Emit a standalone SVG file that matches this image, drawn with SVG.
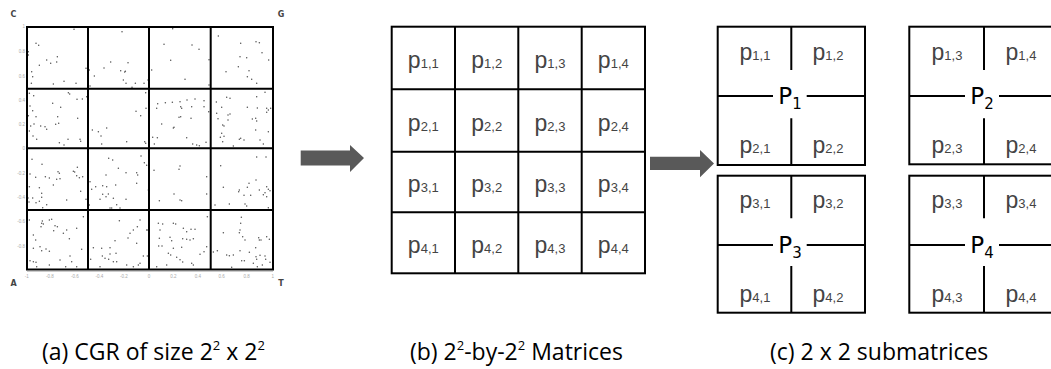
<svg xmlns="http://www.w3.org/2000/svg" width="1051" height="369" viewBox="0 0 1051 369">
<style>
.grid{fill:none;stroke:#000;stroke-width:2}
.ln{stroke:#000;stroke-width:2;fill:none}
.p{font-family:"Liberation Sans",Arial,sans-serif;font-size:23px;fill:#444;text-anchor:middle}
.ps{font-size:13px}
.P{font-family:"DejaVu Sans",Verdana,sans-serif;font-size:23px;fill:#000;text-anchor:middle}
.Ps{font-size:15px}
.cap{font-family:"Open Sans","Noto Sans",sans-serif;font-size:23px;fill:#000}
.sup{font-size:13px}
.corner{font-family:"DejaVu Sans",sans-serif;font-size:8px;font-weight:bold;fill:#444;text-anchor:middle}
.tick{font-family:"Liberation Sans",sans-serif;font-size:4.5px;fill:#aaa}
.arrow{fill:#595959}
</style>
<g id="cgr">
<line x1="27" y1="271.5" x2="273" y2="271.5" stroke="#ccc" stroke-width="1"/>
<g transform="scale(0.33333)">
<path fill="none" stroke="#555" stroke-width="4.5" stroke-linecap="round" d="M222 88h.1M108 130h.1M116 136h.1M85 155h.1M85 165h.1M172 170h.1M140 180h.1M152 190h.1M170 186h.1M118 196h.1M95 215h.1M98 230h.1M94 250h.1M160 252h.1M192 244h.1M228 250h.1M258 205h.1
M366 95h.1M332 186h.1M384 188h.1M312 204h.1M283 228h.1M362 212h.1M376 214h.1M374 216h.1M370 240h.1M378 250h.1M406 250h.1M396 262h.1M432 250h.1M444 240h.1M270 258h.1M268 210h.1
M518 86h.1M492 133h.1M576 135h.1M597 148h.1M512 181h.1M627 179h.1M455 210h.1M555 238h.1M627 255h.1
M655 108h.1M722 130h.1M768 125h.1M778 128h.1M786 158h.1M720 170h.1M740 173h.1M806 180h.1M715 200h.1M678 215h.1M747 212h.1M742 230h.1M755 238h.1M770 250h.1
M88 280h.1M101 287h.1M205 278h.1M209 282h.1M231 298h.1M247 297h.1M260 290h.1M90 318h.1M158 310h.1M182 322h.1M98 332h.1M85 347h.1M173 350h.1M233 355h.1M108 350h.1M102 372h.1M92 378h.1M122 378h.1M135 380h.1M140 388h.1M167 373h.1M176 370h.1M88 393h.1M99 408h.1M110 418h.1M178 428h.1M204 418h.1M240 418h.1M242 424h.1M192 435h.1
M437 278h.1M408 334h.1M438 325h.1M422 347h.1M320 384h.1M277 390h.1M295 395h.1M303 408h.1M305 432h.1M380 425h.1M434 425h.1M437 430h.1M263 392h.1
M473 311h.1M496 308h.1M517 307h.1M540 305h.1M561 300h.1M585 297h.1M612 302h.1M542 320h.1M545 325h.1M575 320h.1M612 320h.1M537 352h.1M542 350h.1M470 325h.1M573 355h.1M626 335h.1M485 372h.1M520 384h.1M522 382h.1M458 412h.1M472 413h.1M560 413h.1M578 432h.1M590 435h.1M598 437h.1M463 432h.1M618 427h.1
M680 292h.1M690 295h.1M649 306h.1M770 290h.1M795 277h.1M742 322h.1M772 324h.1M665 322h.1M650 340h.1M654 356h.1M668 375h.1M672 378h.1M690 342h.1M684 345h.1M684 360h.1M767 355h.1M757 357h.1M770 363h.1M800 325h.1M805 330h.1M812 325h.1M800 337h.1M767 390h.1M805 395h.1M665 400h.1M661 412h.1M672 409h.1M718 418h.1M722 415h.1M732 420h.1M780 420h.1M790 432h.1M668 425h.1M700 438h.1
M96 478h.1M126 493h.1M90 522h.1M107 532h.1M136 530h.1M148 534h.1M174 515h.1M178 520h.1M180 536h.1M170 538h.1M160 555h.1M220 514h.1M232 502h.1M224 516h.1M230 527h.1M238 533h.1M248 530h.1M242 574h.1M88 560h.1M118 563h.1M125 580h.1M98 594h.1M125 592h.1M108 608h.1M118 604h.1M140 614h.1M128 623h.1M200 600h.1M258 598h.1M87 606h.1M84 594h.1
M326 475h.1M338 480h.1M423 468h.1M433 488h.1M440 496h.1M355 505h.1M318 525h.1M270 545h.1M275 568h.1M287 560h.1M308 557h.1M320 560h.1M347 555h.1M378 518h.1M410 518h.1M413 525h.1M410 550h.1M445 570h.1M308 583h.1M325 582h.1M300 598h.1M318 590h.1M340 595h.1M378 598h.1M350 614h.1M335 624h.1M330 624h.1M268 615h.1M360 624h.1
M462 511h.1M540 498h.1M537 508h.1M522 582h.1M540 600h.1M545 602h.1M478 602h.1M620 530h.1M620 582h.1
M662 497h.1M770 471h.1M798 471h.1M768 540h.1M747 550h.1M742 562h.1M718 570h.1M716 575h.1M732 586h.1M752 586h.1M670 562h.1M778 570h.1M800 560h.1M805 568h.1M810 572h.1M795 578h.1M790 584h.1M800 590h.1M688 612h.1M735 612h.1M740 618h.1M645 615h.1M805 623h.1
M88 660h.1M127 663h.1M148 660h.1M155 658h.1M125 670h.1M130 672h.1M123 680h.1M165 677h.1M172 680h.1M161 692h.1M190 700h.1M200 690h.1M208 716h.1M230 685h.1M250 650h.1M100 705h.1M107 720h.1M100 745h.1M120 740h.1M138 747h.1M125 752h.1M148 754h.1M245 748h.1M90 782h.1M100 785h.1M108 787h.1M180 780h.1M210 768h.1M215 785h.1M148 795h.1M197 800h.1M230 800h.1M110 800h.1
M358 662h.1M420 660h.1M440 690h.1M444 690h.1M412 680h.1M400 690h.1M390 700h.1M384 714h.1M345 722h.1M280 743h.1M305 745h.1M330 743h.1M410 730h.1M348 760h.1M330 762h.1M307 768h.1M315 775h.1M326 778h.1M340 785h.1M350 785h.1M380 795h.1M400 800h.1M415 795h.1M272 778h.1M300 800h.1M430 768h.1M442 768h.1M420 790h.1
M475 670h.1M488 672h.1M520 670h.1M527 672h.1M550 685h.1M573 688h.1M585 688h.1M560 695h.1M480 690h.1M478 715h.1M476 738h.1M486 738h.1M510 712h.1M515 722h.1M548 716h.1M580 716h.1M560 718h.1M570 720h.1M520 745h.1M545 742h.1M505 760h.1M512 765h.1M530 772h.1M540 779h.1M548 786h.1M470 800h.1M500 795h.1M575 790h.1M580 795h.1M600 763h.1M612 755h.1M620 740h.1M622 650h.1
M724 652h.1M722 670h.1M720 690h.1M718 698h.1M728 710h.1M735 720h.1M670 698h.1M776 713h.1M778 720h.1M783 720h.1M800 710h.1M808 718h.1M767 743h.1M720 752h.1M748 757h.1M652 752h.1M640 756h.1M680 765h.1M688 767h.1M700 765h.1M725 782h.1M733 782h.1M768 770h.1M780 766h.1M770 778h.1M795 768h.1M797 778h.1M760 790h.1M787 795h.1M810 787h.1M772 800h.1M695 802h.1"/>
</g>
<rect class="grid" x="27" y="27" width="246" height="242.5"/>
<path class="ln" d="M88 27V269.5M149 27V269.5M210.7 27V269.5M27 88.7H273M27 148.3H273M27 210H273"/>
<text class="corner" x="13.5" y="17">C</text>
<text class="corner" x="281" y="17">G</text>
<text class="corner" x="13.5" y="286">A</text>
<text class="corner" x="281" y="286">T</text>
<g class="tick" text-anchor="end">
<text x="25" y="28">1</text><text x="25" y="53">0.8</text><text x="25" y="77.5">0.6</text><text x="25" y="101.5">0.4</text><text x="25" y="125.5">0.2</text><text x="25" y="150">0</text><text x="25" y="174.5">-0.2</text><text x="25" y="198.5">-0.4</text><text x="25" y="223">-0.6</text><text x="25" y="247.5">-0.8</text>
</g>
<g class="tick" text-anchor="middle">
<text x="26.7" y="278">-1</text><text x="50" y="278">-0.8</text><text x="75" y="278">-0.6</text><text x="99.3" y="278">-0.4</text><text x="124" y="278">-0.2</text><text x="149" y="278">0</text><text x="173.3" y="278">0.2</text><text x="198" y="278">0.4</text><text x="221.7" y="278">0.6</text><text x="246.7" y="278">0.8</text><text x="272.7" y="278">1</text>
</g>
</g>
<g id="connectors">
<polygon class="arrow" points="300.7,150.5 350,150.5 350,145 364,158 350,172 350,165.5 300.7,165.5"/>
<polygon class="arrow" points="650,156.7 700,156.7 700,150 714,163.5 700,177.3 700,170 650,170"/>
</g>
<g id="matrix">
<rect class="grid" x="391.7" y="26.7" width="253.3" height="246.6"/>
<path class="ln" d="M455 26.7V273.3M518.3 26.7V273.3M581.7 26.7V273.3M391.7 89.3H645M391.7 151.7H645M391.7 212.3H645"/>
<g class="p">
<text x="423.3" y="68">p<tspan class="ps">1,1</tspan></text>
<text x="486.7" y="68">p<tspan class="ps">1,2</tspan></text>
<text x="550" y="68">p<tspan class="ps">1,3</tspan></text>
<text x="613.3" y="68">p<tspan class="ps">1,4</tspan></text>
<text x="423.3" y="130.5">p<tspan class="ps">2,1</tspan></text>
<text x="486.7" y="130.5">p<tspan class="ps">2,2</tspan></text>
<text x="550" y="130.5">p<tspan class="ps">2,3</tspan></text>
<text x="613.3" y="130.5">p<tspan class="ps">2,4</tspan></text>
<text x="423.3" y="192">p<tspan class="ps">3,1</tspan></text>
<text x="486.7" y="192">p<tspan class="ps">3,2</tspan></text>
<text x="550" y="192">p<tspan class="ps">3,3</tspan></text>
<text x="613.3" y="192">p<tspan class="ps">3,4</tspan></text>
<text x="423.3" y="253">p<tspan class="ps">4,1</tspan></text>
<text x="486.7" y="253">p<tspan class="ps">4,2</tspan></text>
<text x="550" y="253">p<tspan class="ps">4,3</tspan></text>
<text x="613.3" y="253">p<tspan class="ps">4,4</tspan></text>
</g>
</g>
<g id="sub1">
<rect class="grid" x="717.7" y="26.7" width="147.3" height="138.3"/>
<path class="ln" d="M791.3 26.7V70M791.3 118.3V165M717.7 96H773M806.7 96H865"/>
<g class="p"><text x="755" y="60">p<tspan class="ps">1,1</tspan></text><text x="828" y="60">p<tspan class="ps">1,2</tspan></text><text x="755" y="153.3">p<tspan class="ps">2,1</tspan></text><text x="828" y="153.3">p<tspan class="ps">2,2</tspan></text></g>
<text class="P" x="790" y="104">P<tspan class="Ps" dy="5">1</tspan></text>
</g>
<g id="sub2">
<rect class="grid" x="909.3" y="26.7" width="150" height="137.6"/>
<path class="ln" d="M984 26.7V70M984 118.3V164.3M909.3 96H965M999 96H1060"/>
<g class="p"><text x="947" y="60">p<tspan class="ps">1,3</tspan></text><text x="1021" y="60">p<tspan class="ps">1,4</tspan></text><text x="947" y="153.3">p<tspan class="ps">2,3</tspan></text><text x="1021" y="153.3">p<tspan class="ps">2,4</tspan></text></g>
<text class="P" x="982" y="104">P<tspan class="Ps" dy="5">2</tspan></text>
</g>
<g id="sub3">
<rect class="grid" x="717.7" y="175.7" width="147.3" height="137"/>
<path class="ln" d="M791.3 175.7V218.3M791.3 266V312.7M717.7 245H773M806.7 245H865"/>
<g class="p"><text x="755" y="208.3">p<tspan class="ps">3,1</tspan></text><text x="828" y="208.3">p<tspan class="ps">3,2</tspan></text><text x="755" y="301.7">p<tspan class="ps">4,1</tspan></text><text x="828" y="301.7">p<tspan class="ps">4,2</tspan></text></g>
<text class="P" x="790" y="253">P<tspan class="Ps" dy="5">3</tspan></text>
</g>
<g id="sub4">
<rect class="grid" x="909.3" y="175.7" width="150" height="137"/>
<path class="ln" d="M984 175.7V218.3M984 266V312.7M909.3 245H965M999 245H1060"/>
<g class="p"><text x="947" y="208.3">p<tspan class="ps">3,3</tspan></text><text x="1021" y="208.3">p<tspan class="ps">3,4</tspan></text><text x="947" y="301.7">p<tspan class="ps">4,3</tspan></text><text x="1021" y="301.7">p<tspan class="ps">4,4</tspan></text></g>
<text class="P" x="982" y="253">P<tspan class="Ps" dy="5">4</tspan></text>
</g>
<g id="captions" class="cap">
<text x="42" y="360">(a) CGR of size 2<tspan class="sup" dy="-10">2</tspan><tspan dy="10"> x 2</tspan><tspan class="sup" dy="-10">2</tspan></text>
<text x="410" y="360">(b) 2<tspan class="sup" dy="-10">2</tspan><tspan dy="10">-by-2</tspan><tspan class="sup" dy="-10">2</tspan><tspan dy="10"> Matrices</tspan></text>
<text x="770" y="360">(c) 2 x 2 submatrices</text>
</g>
</svg>
